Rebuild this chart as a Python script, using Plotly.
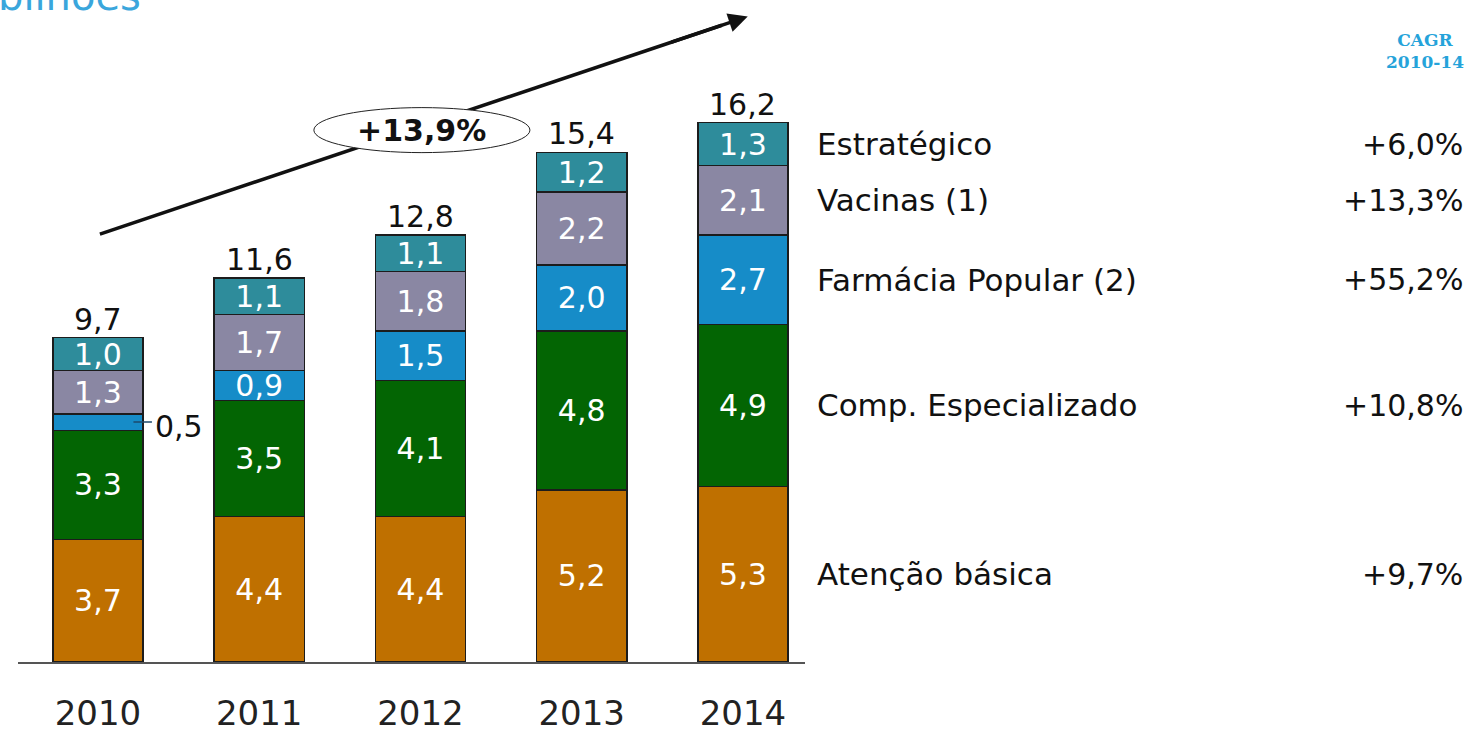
import plotly.graph_objects as go

years = ["2010", "2011", "2012", "2013", "2014"]
atencao = [3.7, 4.4, 4.4, 5.2, 5.3]
comp = [3.3, 3.5, 4.1, 4.8, 4.9]
farmacia = [0.5, 0.9, 1.5, 2.0, 2.7]
vacinas = [1.3, 1.7, 1.8, 2.2, 2.1]
estrategico = [1.0, 1.1, 1.1, 1.2, 1.3]
totals = [9.7, 11.6, 12.8, 15.4, 16.2]
series_names = ["Atenção básica", "Comp. Especializado", "Farmácia Popular (2)", "Vacinas (1)", "Estratégico"]
cagr = ["+9,7%", "+10,8%", "+55,2%", "+13,3%", "+6,0%"]
overall_cagr = "+13,9%"

colors = ["#BF7000", "#036503", "#168CC8", "#8A87A3", "#2E8C9B"]
FONT = "Verdana, DejaVu Sans, sans-serif"
TXT = 30

series = [atencao, comp, farmacia, vacinas, estrategico]


def fmt(v):
    return ("%.1f" % v).replace(".", ",")


fig = go.Figure()
for name, vals, col in zip(series_names, series, colors):
    txt = [fmt(v) for v in vals]
    if name.startswith("Farm"):
        txt[0] = ""  # small segment labelled outside
    fig.add_trace(go.Bar(
        x=years, y=vals, name=name, marker=dict(color=col, line=dict(color="#1c1c1c", width=1.5)),
        width=0.56, text=txt, textposition="inside", insidetextanchor="middle",
        textfont=dict(color="white", size=TXT, family=FONT), constraintext="none",
        hoverinfo="skip", showlegend=False,
    ))

# totals above bars (category axis -> index positions)
stack_tops = [sum(s[i] for s in series) for i in range(len(years))]
for i, t in enumerate(totals):
    fig.add_annotation(x=i, y=stack_tops[i], xref="x", yref="y", text=fmt(t), showarrow=False,
                       yanchor="bottom", yshift=-1, font=dict(size=TXT, color="#111", family=FONT))

# leader label for small 2010 Farmácia segment
f_y = atencao[0] + comp[0] + farmacia[0] / 2
fig.add_annotation(x=0.22, y=f_y, xref="x", yref="y", ax=20, ay=0, text="",
                   showarrow=True, arrowhead=0, arrowwidth=1.5, arrowcolor="#1c4a6c")
fig.add_annotation(x=0.34, y=f_y, xref="x", yref="y", text="0,5", showarrow=False,
                   xanchor="left", yshift=-4, font=dict(size=TXT, color="#111", family=FONT))

# right-side labels aligned with the 2014 bar segments
cum = 0
for name, vals, c in zip(series_names, series, cagr):
    center = cum + vals[-1] / 2
    cum += vals[-1]
    fig.add_annotation(x=1.0127, y=center, xref="paper", yref="y", text=name, showarrow=False,
                       xanchor="left", font=dict(size=31, color="#111", family=FONT))
    fig.add_annotation(x=1.838, y=center, xref="paper", yref="y", text=c, showarrow=False,
                       xanchor="right", font=dict(size=30, color="#111", family=FONT))

fig.add_annotation(x=1.788, y=0.930, xref="paper", yref="paper", text="<b>CAGR<br>2010-14</b>",
                   showarrow=False, xanchor="center", yanchor="middle",
                   font=dict(size=17, color="#25A3DA", family="DejaVu Serif, serif"))

# growth arrow: line shape (behind ellipse) + arrowhead
sx, sy, tx, ty = 0.012, 12.93, 4.03, 19.5
p1x, p1y = sx + 0.96 * (tx - sx), sy + 0.96 * (ty - sy)
p2x, p2y = sx + 0.88 * (tx - sx), sy + 0.88 * (ty - sy)
fig.add_shape(type="line", xref="x", yref="y", x0=sx, y0=sy, x1=p1x, y1=p1y,
              line=dict(color="#111", width=3.5), layer="above")
fig.add_annotation(x=tx, y=ty, xref="x", yref="y", ax=p2x, ay=p2y, axref="x", ayref="y", text="",
                   showarrow=True, arrowhead=2, arrowsize=1.1, arrowwidth=3.5, arrowcolor="#111")
fig.add_shape(type="circle", xref="x", yref="y", x0=2.009 - 0.67, x1=2.009 + 0.67,
              y0=16.07 - 0.68, y1=16.07 + 0.68, fillcolor="white",
              line=dict(color="#222", width=1), layer="above")
fig.add_annotation(x=2.009, y=16.07, xref="x", yref="y", text="<b>" + overall_cagr + "</b>",
                   showarrow=False, font=dict(size=TXT, color="#111", family=FONT))

# partially visible header
fig.add_annotation(x=-0.028, y=0.9757, xref="paper", yref="paper", text="bilhões", showarrow=False,
                   xanchor="left", yanchor="bottom", font=dict(size=40, color="#3AA6DC", family=FONT))

fig.update_layout(
    barmode="stack", width=1471, height=735, paper_bgcolor="white", plot_bgcolor="white",
    margin=dict(l=18, r=666, t=5, b=73, autoexpand=False),
)
fig.update_xaxes(type="category", range=[-0.496, 4.385], showline=True, linecolor="#555", linewidth=2,
                 ticks="", showgrid=False, tickfont=dict(size=34, color="#222", family=FONT),
                 ticklabelstandoff=20, automargin=False)
fig.update_yaxes(range=[0, 19.85], visible=False, showgrid=False, automargin=False)

fig.write_html("out.html", config={"displayModeBar": False},
               post_script="document.body.style.margin='0';document.body.style.overflow='hidden';")
